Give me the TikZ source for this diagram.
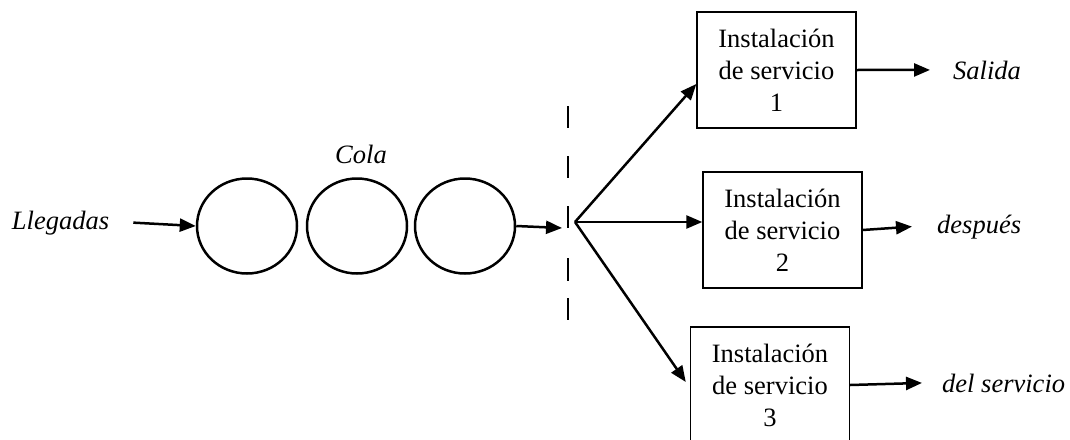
\documentclass[tikz,border=0pt]{standalone}
\usepackage{fontspec}
\setmainfont{Liberation Serif}
\usetikzlibrary{arrows.meta,shapes.geometric,calc}

\tikzset{
  txt/.style={font=\fontsize{26.5}{32}\selectfont, inner sep=0pt},
  lbl/.style={txt, font=\fontsize{26.5}{32}\selectfont\itshape},
  queue/.style={ellipse, draw, line width=2.5pt, minimum width=100pt, minimum height=95pt, inner sep=0pt},
  station/.style={rectangle, draw, line width=1.4pt, minimum width=159pt, minimum height=116pt,
                  inner sep=0pt, align=center, txt},
  arr/.style={line width=2.5pt, -{Triangle[length=16pt,width=13pt]}},
  splitline/.style={line width=1.3pt}
}

\begin{document}
\begin{tikzpicture}[x=1pt, y=-1pt]
  \clip (0,0) rectangle (1070,439);
  \fill[white] (0,0) rectangle (1070,439);

  % arrivals and the waiting line
  \node[lbl, anchor=base] (lleg) at (60.5,229) {Llegadas};
  \node[queue] (c1) at (247,226) {};
  \node[queue] (c2) at (357,226) {};
  \node[queue] (c3) at (465,226) {};
  \node[lbl, anchor=base] (cola) at (361,163) {Cola};

  \draw[arr] ([xshift=24pt]lleg.east) -- (c1.west);

  % end of the line and branching point
  \coordinate (gate) at (562,228);
  \coordinate (fork) at (575,222);
  \draw[arr] (c3.east) -- (gate);
  \foreach \ya/\yb in {106/128, 156/178, 206/228, 258/281, 298/320}
    \draw[splitline] (568,\ya) -- (568,\yb);

  % service stations
  \node[station] (b1) at (776.5,70) {Instalación\\de servicio\\1};
  \node[station] (b2) at (782.5,230) {Instalación\\de servicio\\2};
  \node[station] (b3) at (770,385) {Instalación\\de servicio\\3};

  \draw[arr] (fork) -- ($(b1.west)+(0,14)$);
  \draw[arr] (fork) -- ($(b2.west)+(0,-8)$);
  \draw[arr] (fork) -- ($(b3.west)+(-4,-3)$);

  % departures
  \node[lbl, anchor=base west] (sal) at (953,79) {Salida};
  \node[lbl, anchor=base west] (desp) at (937,233) {después};
  \node[lbl, anchor=base west] (dels) at (942,392) {del servicio};

  \draw[arr] (b1.east) -- ([xshift=-23pt]sal.west);
  \draw[arr] (b2.east) -- ([xshift=-25pt]desp.west);
  \draw[arr] (b3.east) -- ([xshift=-20pt]dels.west);
\end{tikzpicture}
\end{document}
